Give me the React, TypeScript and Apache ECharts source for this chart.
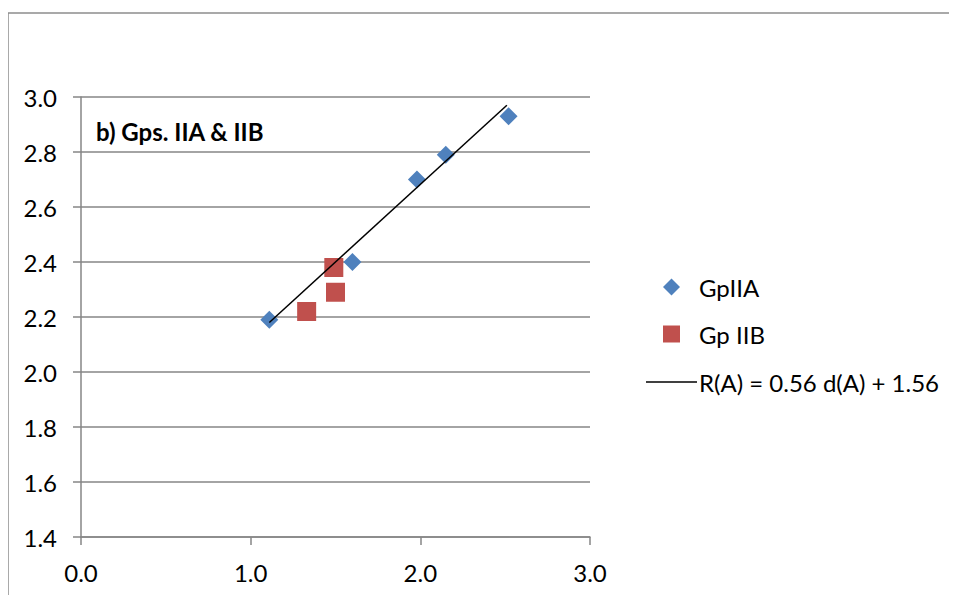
import React, { useEffect, useRef } from "react";
import * as echarts from "echarts";

const gpIIA: [number, number][] = [
  [1.11, 2.19],
  [1.6, 2.4],
  [1.98, 2.7],
  [2.15, 2.79],
  [2.52, 2.93],
];
const gpIIB: [number, number][] = [
  [1.33, 2.22],
  [1.5, 2.29],
  [1.49, 2.38],
];
const fitLine: [number, number][] = [
  [1.11, 2.18],
  [2.51, 2.97],
];
const seriesNames = ["GpIIA", "Gp IIB", "R(A) = 0.56 d(A) + 1.56"];
const chartTitle = "b) Gps. IIA & IIB";

const FONT = "Lato, 'Open Sans', sans-serif";
const FS = 24;

export default function App() {
  const ref = useRef<HTMLDivElement>(null);
  useEffect(() => {
    if (!ref.current) return;
    const chart = echarts.init(ref.current, undefined, { renderer: "svg" });
    chart.setOption({
      animation: false,
      backgroundColor: "#ffffff",
      textStyle: { fontFamily: FONT },
      grid: { left: 73, top: 89, width: 509, height: 440, containLabel: false },
      title: {
        text: chartTitle,
        left: 88,
        top: 111,
        padding: 0,
        textStyle: { fontFamily: FONT, fontSize: 24, fontWeight: "bold", color: "#000" },
      },
      xAxis: {
        type: "value",
        min: 0,
        max: 3,
        interval: 1,
        axisLine: { show: true, lineStyle: { color: "#868686", width: 1.5 } },
        axisTick: { show: true, length: 8, inside: false, lineStyle: { color: "#868686", width: 1.5 } },
        splitLine: { show: false },
        axisLabel: {
          fontFamily: FONT,
          fontSize: FS,
          color: "#000",
          margin: 23,
          formatter: (v: number) => v.toFixed(1),
        },
      },
      yAxis: {
        type: "value",
        min: 1.4,
        max: 3.0,
        interval: 0.2,
        axisLine: { show: true, lineStyle: { color: "#868686", width: 1.5 } },
        axisTick: { show: true, length: 8, inside: false, lineStyle: { color: "#868686", width: 1.5 } },
        splitLine: { show: true, lineStyle: { color: "#868686", width: 1.5 } },
        axisLabel: {
          fontFamily: FONT,
          fontSize: FS,
          color: "#000",
          margin: 24,
          formatter: (v: number) => v.toFixed(1),
        },
      },
      legend: [
        {
          data: [seriesNames[0]],
          left: 650,
          top: 262,
          icon: "diamond",
          itemWidth: 17,
          itemHeight: 17,
          textStyle: { fontFamily: FONT, fontSize: FS, color: "#000", padding: [0, 0, 0, 14] },
        },
        {
          data: [seriesNames[1]],
          left: 650,
          top: 309,
          icon: "rect",
          itemWidth: 17,
          itemHeight: 17,
          textStyle: { fontFamily: FONT, fontSize: FS, color: "#000", padding: [0, 0, 0, 14] },
        },
        {
          data: [seriesNames[2]],
          left: 633,
          top: 357,
          icon: "rect",
          itemWidth: 51,
          itemHeight: 1.5,
          itemStyle: { color: "#000" },
          textStyle: { fontFamily: FONT, fontSize: FS, color: "#000", padding: [0, 0, 0, -3] },
        },
      ],
      graphic: [
        { type: "line", shape: { x1: 0, y1: 5, x2: 957, y2: 5 }, style: { stroke: "#8c8c8c", lineWidth: 1.5 } },
        { type: "line", shape: { x1: 0, y1: 5, x2: 0, y2: 595 }, style: { stroke: "#8c8c8c", lineWidth: 1.5 } },
      ],
      series: [
        {
          name: seriesNames[0],
          type: "scatter",
          data: gpIIA,
          symbol: "diamond",
          symbolSize: 18,
          itemStyle: { color: "#4F81BD", opacity: 1 },
          z: 3,
        },
        {
          name: seriesNames[1],
          type: "scatter",
          data: gpIIB,
          symbol: "rect",
          symbolSize: 19,
          itemStyle: { color: "#C0504D", opacity: 1 },
          z: 3,
        },
        {
          name: seriesNames[2],
          type: "line",
          data: fitLine,
          showSymbol: false,
          symbol: "none",
          lineStyle: { color: "#000", width: 1.5 },
          itemStyle: { color: "#000" },
          z: 4,
        },
      ],
    });
    return () => chart.dispose();
  }, []);
  return (
    <div ref={ref} style={{ width: 949, height: 587 }} />
  );
}
